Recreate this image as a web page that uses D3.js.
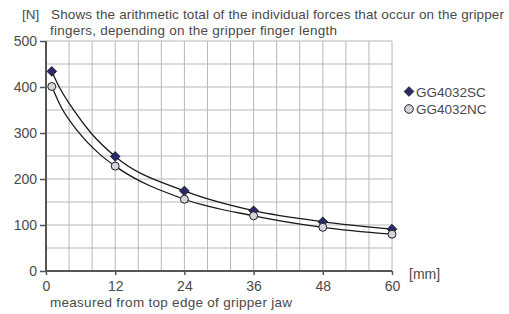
<!DOCTYPE html>
<html><head><meta charset="utf-8">
<script src="https://cdn.jsdelivr.net/npm/d3@7"></script>
<style>body{margin:0;background:#fff}svg{display:block}text{font-family:"Liberation Sans",Arial,sans-serif;fill:#4a4a4a}</style>
</head><body>
<svg id="c" width="509" height="314"></svg>
<script>
// measured points (markers)
const xValues = [1, 12, 24, 36, 48, 60];
const seriesSC = [434, 249, 174, 131, 107, 91];
const seriesNC = [401, 228, 156, 120, 95, 80];
// points
const curveXSC = [1, 2.3, 4.9, 7.8, 12, 24, 36, 48, 60];
const curveSC  = [434, 400, 348, 300, 249, 174, 131, 107, 91];
const curveXNC = [1, 2.6, 5.5, 9.4, 12, 24, 36, 48, 60];
const curveNC  = [401, 357, 304, 253, 228, 156, 120, 95, 80];
const seriesNames = ["GG4032SC", "GG4032NC"];
const xTicks = [0, 12, 24, 36, 48, 60];
const yTicks = [0, 100, 200, 300, 400, 500];
const unitY = "[N]";
const unitX = "[mm]";
const titleLines = ["Shows the arithmetic total of the individual forces that occur on the gripper", "fingers, depending on the gripper finger length"];
const xLabel = "measured from top edge of gripper jaw";

const svg = d3.select("#c");
const x = d3.scaleLinear().domain([0, 60]).range([46, 392]);
const y = d3.scaleLinear().domain([0, 500]).range([271, 41]);

// grid
const g = svg.append("g");
g.selectAll(".vg").data(d3.range(4, 61, 4)).join("line")
  .attr("x1", d => x(d)).attr("x2", d => x(d)).attr("y1", y(0)).attr("y2", y(500))
  .attr("stroke", "#b8b8bc").attr("stroke-width", 1);
g.selectAll(".hg").data(d3.range(50, 501, 50)).join("line")
  .attr("x1", x(0)).attr("x2", x(60)).attr("y1", d => y(d)).attr("y2", d => y(d))
  .attr("stroke", "#b8b8bc").attr("stroke-width", 1);

// axes
const yAxis = svg.append("g").attr("transform", `translate(${x(0)},0)`)
  .call(d3.axisLeft(y).tickValues(yTicks).tickSize(6).tickPadding(3));
const xAxis = svg.append("g").attr("transform", `translate(0,${y(0)})`)
  .call(d3.axisBottom(x).tickValues(xTicks).tickSize(4).tickPadding(6));
[yAxis, xAxis].forEach(a => {
  a.select(".domain").attr("stroke", "#555").attr("stroke-width", 2);
  a.selectAll(".tick line").attr("stroke", "#555").attr("stroke-width", 1.5);
  a.selectAll(".tick text").attr("font-size", 14).attr("fill", "#4a4a4a")
    .attr("font-family", '"Liberation Sans",Arial,sans-serif');
});
yAxis.select(".domain").attr("d", `M0,${y(500)}V${y(0)}`);
xAxis.select(".domain").attr("d", `M${x(0)},0H${x(60)}`);

// lines
const line = xs => d3.line().x((d, i) => x(xs[i])).y(d => y(d)).curve(d3.curveMonotoneX);
svg.append("path").attr("d", line(curveXSC)(curveSC)).attr("fill", "none").attr("stroke", "#1a1a1a").attr("stroke-width", 1.3);
svg.append("path").attr("d", line(curveXNC)(curveNC)).attr("fill", "none").attr("stroke", "#1a1a1a").attr("stroke-width", 1.3);

// markers
const diamond = d3.symbol().type(d3.symbolDiamond2).size(60);
svg.selectAll(".sc").data(seriesSC).join("path")
  .attr("d", diamond).attr("transform", (d, i) => `translate(${x(xValues[i])},${y(d)})`)
  .attr("fill", "#2b2b6b").attr("stroke", "#111").attr("stroke-width", 0.8);
svg.selectAll(".nc").data(seriesNC).join("circle")
  .attr("cx", (d, i) => x(xValues[i])).attr("cy", d => y(d)).attr("r", 4)
  .attr("fill", "#d4d4dc").attr("stroke", "#222").attr("stroke-width", 1);

// legend
svg.append("path").attr("d", diamond).attr("transform", "translate(409,91.5)")
  .attr("fill", "#2b2b6b").attr("stroke", "#111").attr("stroke-width", 0.8);
svg.append("circle").attr("cx", 409).attr("cy", 109).attr("r", 4.3)
  .attr("fill", "#d4d4dc").attr("stroke", "#222").attr("stroke-width", 1);
svg.selectAll(".lg").data(seriesNames).join("text")
  .attr("x", 416).attr("y", (d, i) => 96.5 + i * 17.5).attr("font-size", 13.5).text(d => d);

// titles
svg.append("text").attr("x", 22).attr("y", 19).attr("font-size", 13.5).text(unitY);
svg.append("text").attr("x", 51).attr("y", 19).attr("font-size", 13.5)
  .attr("textLength", 453).attr("lengthAdjust", "spacing").text(titleLines[0]);
svg.append("text").attr("x", 50).attr("y", 35).attr("font-size", 13.5)
  .attr("textLength", 287).attr("lengthAdjust", "spacing").text(titleLines[1]);
svg.append("text").attr("x", 409).attr("y", 279).attr("font-size", 14).text(unitX);
svg.append("text").attr("x", 50).attr("y", 307).attr("font-size", 13.5)
  .attr("textLength", 242).attr("lengthAdjust", "spacing").text(xLabel);
</script>
</body></html>
